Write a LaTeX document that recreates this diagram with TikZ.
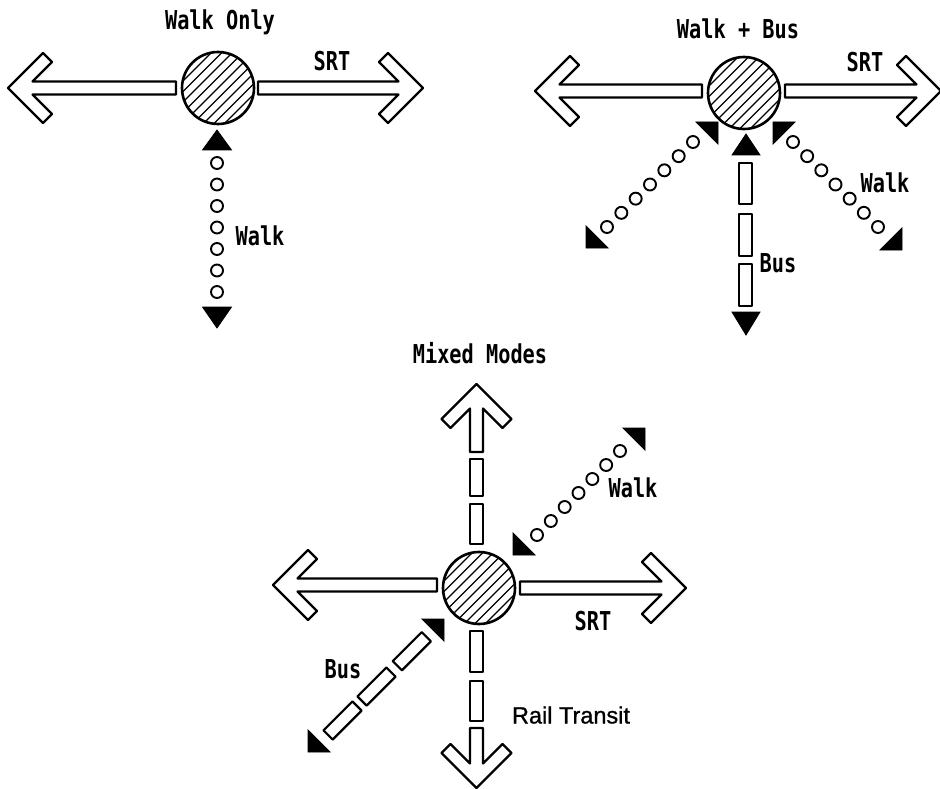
\documentclass[tikz,border=0pt]{standalone}
\usepackage{fontspec}
\newfontfamily\labfont[FakeStretch=0.78]{DejaVu Sans Mono}
\newfontfamily\railfont[FakeBold=1]{Liberation Sans}
\usetikzlibrary{calc}
\tikzset{
  outl/.style={draw=black, line width=2.2pt, fill=white, line join=round},
  lab/.style={font=\labfont\bfseries\fontsize{26}{28}\selectfont, inner sep=0pt, text height=18pt, text depth=0pt},
  raillab/.style={font=\railfont\fontsize{23.5}{28}\selectfont, inner sep=0pt, text height=17pt, text depth=0pt},
  stnline/.style={line width=2.6pt},
  hatch/.style={line width=1.3pt},
  dotc/.style={draw=black, line width=1.9pt, fill=white},
  tri/.style={fill=black, draw=black, line width=0.8pt, line join=miter},
}
% hollow arrow: start of shaft, angle, length to tip
\newcommand\hollowarrow[3]{%
  \begin{scope}[shift={(#1)}, rotate=#2]
    \draw[outl] (0,-6.5) -- (#3-24.5,-6.5) -- (#3-44,-26) -- (#3-35,-35) -- (#3,0)
      -- (#3-35,35) -- (#3-44,26) -- (#3-24.5,6.5) -- (0,6.5) -- cycle;
  \end{scope}}
% hatched station circle
\newcommand\station[1]{%
  \begin{scope}
    \clip (#1) circle (36pt);
    \foreach \d in {-52.5,-42,...,53} \draw[hatch] ($(#1)+(\d-40,40)$) -- ($(#1)+(\d+40,-40)$);
  \end{scope}
  \draw[stnline] (#1) circle (36pt);}
\begin{document}
\begin{tikzpicture}[x=1pt,y=-1pt]
\fill[white] (0,0) rectangle (940,789);
\useasboundingbox (0,0) rectangle (940,789);

% ---------- Diagram 1: Walk Only ----------
\coordinate (c1) at (218,88);
\hollowarrow{176,88}{180}{168}
\hollowarrow{258,88}{0}{165}
\station{c1}
\fill[tri] (217,130) -- (231.5,150) -- (202.5,150) -- cycle;
\fill[tri] (217,328) -- (231.5,307) -- (202.5,307) -- cycle;
\foreach \i in {0,...,6} \draw[dotc] ($(217,163)!\i/6!(217,292)$) circle (6pt);
\node[lab] (t1) at (220,21) {Walk Only};
\node[lab] (srt1) at (332,62) {SRT};
\node[lab] (w1) at (260,236) {Walk};

% ---------- Diagram 2: Walk + Bus ----------
\coordinate (c2) at (744,93);
\hollowarrow{702,91}{180}{167}
\hollowarrow{785,91}{0}{156}
\station{c2}
% bus vertical
\fill[tri] (746,134) -- (760,155) -- (732,155) -- cycle;
\fill[tri] (746,335) -- (760,312) -- (732,312) -- cycle;
\draw[outl] (739,163) rectangle (752,204);
\draw[outl] (739,214) rectangle (752,256);
\draw[outl] (739,264) rectangle (752,306);
% walk left-down
\fill[tri] (718,122) -- (696,122) -- (718,144) -- cycle;
\fill[tri] (586,248) -- (586,226) -- (608,248) -- cycle;
\foreach \i in {0,...,6} \draw[dotc] ($(693,142)!\i/6!(607,227)$) circle (6pt);
% walk right-down
\fill[tri] (773,122) -- (795,122) -- (773,144) -- cycle;
\fill[tri] (902,250) -- (902,228) -- (880,250) -- cycle;
\foreach \i in {0,...,6} \draw[dotc] ($(793,142)!\i/6!(878,227)$) circle (6pt);
\node[lab] (t2) at (738,30) {Walk + Bus};
\node[lab] (srt2) at (865,63) {SRT};
\node[lab] (w2) at (885,184) {Walk};
\node[lab] (b2) at (778,263) {Bus};

% ---------- Diagram 3: Mixed Modes ----------
\coordinate (c3) at (479,588);
\hollowarrow{437,585}{180}{164}
\hollowarrow{520,588}{0}{166}
\hollowarrow{476.5,452}{90}{68}
\hollowarrow{476.5,728}{-90}{60}
\station{c3}
\draw[outl] (470,459) rectangle (483,496);
\draw[outl] (470,504) rectangle (483,544);
\draw[outl] (470,631) rectangle (483,672);
\draw[outl] (470,681) rectangle (483,721);
% walk up-right
\fill[tri] (513,555) -- (513,533) -- (535,555) -- cycle;
\fill[tri] (645,428) -- (623,428) -- (645,450) -- cycle;
\foreach \i in {0,...,6} \draw[dotc] ($(537,535)!\i/6!(620,451)$) circle (6pt);
% bus down-left
\fill[tri] (444,619) -- (422,619) -- (444,641) -- cycle;
\fill[tri] (308,752) -- (308,730) -- (330,752) -- cycle;
\begin{scope}[shift={(444,619)}, rotate=225]
  \draw[outl] (25,-6.5) rectangle (66,6.5);
  \draw[outl] (75,-6.5) rectangle (116,6.5);
  \draw[outl] (123,-6.5) rectangle (164,6.5);
\end{scope}
\node[lab] (t3) at (480,354) {Mixed Modes};
\node[lab] (w3) at (633,488) {Walk};
\node[lab] (srt3) at (593,621) {SRT};
\node[lab] (b3) at (343,669) {Bus};
\node[raillab] (rt) at (571,715) {Rail Transit};
\end{tikzpicture}
\end{document}
